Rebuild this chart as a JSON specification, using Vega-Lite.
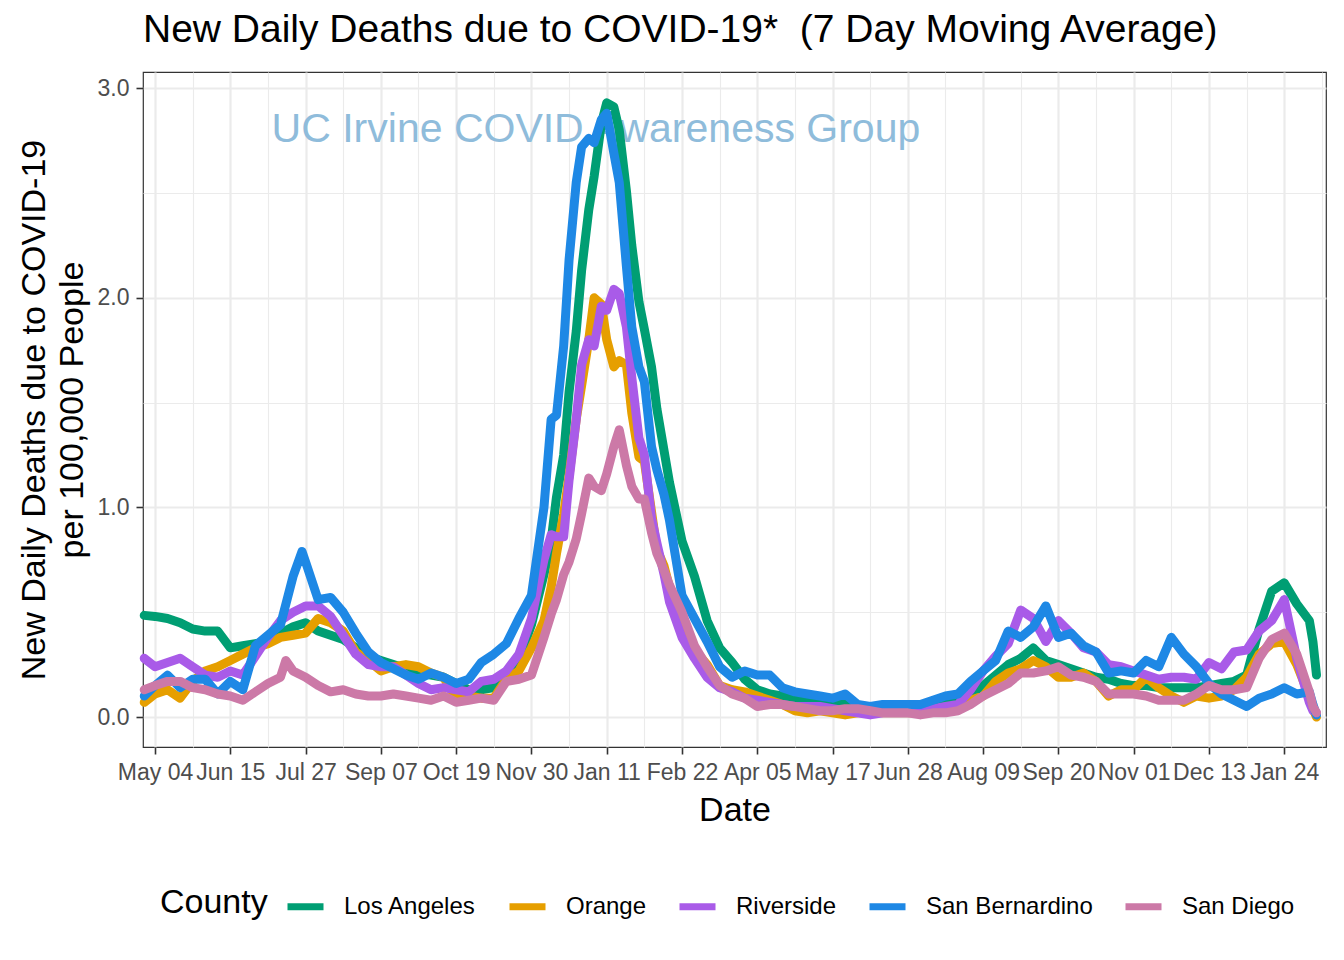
{
  "$schema": "https://vega.github.io/schema/vega-lite/v6.json",
  "width": 1183,
  "height": 675,
  "autosize": {"type": "none"},
  "padding": {"left": 143, "top": 72, "right": 18, "bottom": 213},
  "background": "white",
  "title": {"text": "New Daily Deaths due to COVID-19*\u00a0 (7 Day Moving Average)", "anchor": "start", "frame": "group", "fontSize": 39, "fontWeight": "normal", "color": "black", "offset": 22},
  "config": {
    "font": "Liberation Sans",
    "view": {"stroke": "#333333", "strokeWidth": 1.2},
    "axis": {"gridColor": "#EBEBEB", "domain": false, "tickColor": "#333333", "tickWidth": 1.6, "tickSize": 7, "labelColor": "#4D4D4D", "labelFontSize": 23, "titleColor": "black", "titleFontSize": 34, "titleFontWeight": "normal", "labelOverlap": false, "labelFlush": false, "labelBound": false}
  },
  "datasets": {
    "note": [{"d": "2021-01-05", "v": 2.8, "label": "UC Irvine COVID Awareness Group"}],
    "deaths": [
{"c":"Los Angeles","d":"2020-04-28","v":0.485},{"c":"Los Angeles","d":"2020-05-04","v":0.48},{"c":"Los Angeles","d":"2020-05-11","v":0.47},{"c":"Los Angeles","d":"2020-05-18","v":0.45},{"c":"Los Angeles","d":"2020-05-25","v":0.42},{"c":"Los Angeles","d":"2020-06-01","v":0.41},{"c":"Los Angeles","d":"2020-06-08","v":0.41},{"c":"Los Angeles","d":"2020-06-15","v":0.33},{"c":"Los Angeles","d":"2020-06-22","v":0.34},{"c":"Los Angeles","d":"2020-06-29","v":0.35},{"c":"Los Angeles","d":"2020-07-06","v":0.36},{"c":"Los Angeles","d":"2020-07-13","v":0.40},{"c":"Los Angeles","d":"2020-07-20","v":0.43},{"c":"Los Angeles","d":"2020-07-27","v":0.45},{"c":"Los Angeles","d":"2020-08-03","v":0.41},{"c":"Los Angeles","d":"2020-08-10","v":0.39},{"c":"Los Angeles","d":"2020-08-17","v":0.37},{"c":"Los Angeles","d":"2020-08-24","v":0.33},{"c":"Los Angeles","d":"2020-08-31","v":0.29},{"c":"Los Angeles","d":"2020-09-07","v":0.27},{"c":"Los Angeles","d":"2020-09-14","v":0.25},{"c":"Los Angeles","d":"2020-09-21","v":0.23},{"c":"Los Angeles","d":"2020-09-28","v":0.21},{"c":"Los Angeles","d":"2020-10-05","v":0.20},{"c":"Los Angeles","d":"2020-10-12","v":0.19},{"c":"Los Angeles","d":"2020-10-19","v":0.16},{"c":"Los Angeles","d":"2020-10-26","v":0.13},{"c":"Los Angeles","d":"2020-11-02","v":0.13},{"c":"Los Angeles","d":"2020-11-09","v":0.14},{"c":"Los Angeles","d":"2020-11-16","v":0.19},{"c":"Los Angeles","d":"2020-11-23","v":0.27},{"c":"Los Angeles","d":"2020-11-30","v":0.44},{"c":"Los Angeles","d":"2020-12-07","v":0.68},{"c":"Los Angeles","d":"2020-12-11","v":0.84},{"c":"Los Angeles","d":"2020-12-14","v":1.05},{"c":"Los Angeles","d":"2020-12-18","v":1.25},{"c":"Los Angeles","d":"2020-12-21","v":1.55},{"c":"Los Angeles","d":"2020-12-25","v":1.84},{"c":"Los Angeles","d":"2020-12-28","v":2.13},{"c":"Los Angeles","d":"2021-01-01","v":2.42},{"c":"Los Angeles","d":"2021-01-04","v":2.58},{"c":"Los Angeles","d":"2021-01-08","v":2.83},{"c":"Los Angeles","d":"2021-01-11","v":2.93},{"c":"Los Angeles","d":"2021-01-15","v":2.91},{"c":"Los Angeles","d":"2021-01-18","v":2.80},{"c":"Los Angeles","d":"2021-01-22","v":2.51},{"c":"Los Angeles","d":"2021-01-25","v":2.25},{"c":"Los Angeles","d":"2021-01-29","v":1.98},{"c":"Los Angeles","d":"2021-02-01","v":1.85},{"c":"Los Angeles","d":"2021-02-05","v":1.67},{"c":"Los Angeles","d":"2021-02-08","v":1.47},{"c":"Los Angeles","d":"2021-02-12","v":1.27},{"c":"Los Angeles","d":"2021-02-15","v":1.12},{"c":"Los Angeles","d":"2021-02-22","v":0.84},{"c":"Los Angeles","d":"2021-03-01","v":0.67},{"c":"Los Angeles","d":"2021-03-08","v":0.46},{"c":"Los Angeles","d":"2021-03-15","v":0.33},{"c":"Los Angeles","d":"2021-03-22","v":0.26},{"c":"Los Angeles","d":"2021-03-29","v":0.18},{"c":"Los Angeles","d":"2021-04-05","v":0.13},{"c":"Los Angeles","d":"2021-04-12","v":0.11},{"c":"Los Angeles","d":"2021-04-19","v":0.10},{"c":"Los Angeles","d":"2021-04-26","v":0.09},{"c":"Los Angeles","d":"2021-05-03","v":0.08},{"c":"Los Angeles","d":"2021-05-10","v":0.07},{"c":"Los Angeles","d":"2021-05-17","v":0.06},{"c":"Los Angeles","d":"2021-05-24","v":0.06},{"c":"Los Angeles","d":"2021-05-31","v":0.05},{"c":"Los Angeles","d":"2021-06-07","v":0.05},{"c":"Los Angeles","d":"2021-06-14","v":0.04},{"c":"Los Angeles","d":"2021-06-21","v":0.04},{"c":"Los Angeles","d":"2021-06-28","v":0.03},{"c":"Los Angeles","d":"2021-07-05","v":0.04},{"c":"Los Angeles","d":"2021-07-12","v":0.05},{"c":"Los Angeles","d":"2021-07-19","v":0.06},{"c":"Los Angeles","d":"2021-07-26","v":0.08},{"c":"Los Angeles","d":"2021-08-02","v":0.11},{"c":"Los Angeles","d":"2021-08-09","v":0.15},{"c":"Los Angeles","d":"2021-08-16","v":0.20},{"c":"Los Angeles","d":"2021-08-23","v":0.25},{"c":"Los Angeles","d":"2021-08-30","v":0.28},{"c":"Los Angeles","d":"2021-09-06","v":0.33},{"c":"Los Angeles","d":"2021-09-13","v":0.27},{"c":"Los Angeles","d":"2021-09-20","v":0.25},{"c":"Los Angeles","d":"2021-09-27","v":0.23},{"c":"Los Angeles","d":"2021-10-04","v":0.21},{"c":"Los Angeles","d":"2021-10-11","v":0.19},{"c":"Los Angeles","d":"2021-10-18","v":0.18},{"c":"Los Angeles","d":"2021-10-25","v":0.16},{"c":"Los Angeles","d":"2021-11-01","v":0.15},{"c":"Los Angeles","d":"2021-11-08","v":0.15},{"c":"Los Angeles","d":"2021-11-15","v":0.14},{"c":"Los Angeles","d":"2021-11-22","v":0.14},{"c":"Los Angeles","d":"2021-11-29","v":0.14},{"c":"Los Angeles","d":"2021-12-06","v":0.14},{"c":"Los Angeles","d":"2021-12-13","v":0.15},{"c":"Los Angeles","d":"2021-12-20","v":0.16},{"c":"Los Angeles","d":"2021-12-27","v":0.17},{"c":"Los Angeles","d":"2022-01-03","v":0.20},{"c":"Los Angeles","d":"2022-01-10","v":0.42},{"c":"Los Angeles","d":"2022-01-17","v":0.60},{"c":"Los Angeles","d":"2022-01-24","v":0.64},{"c":"Los Angeles","d":"2022-01-31","v":0.54},{"c":"Los Angeles","d":"2022-02-07","v":0.46},{"c":"Los Angeles","d":"2022-02-09","v":0.36},{"c":"Los Angeles","d":"2022-02-11","v":0.20},
{"c":"Orange","d":"2020-04-28","v":0.07},{"c":"Orange","d":"2020-05-04","v":0.11},{"c":"Orange","d":"2020-05-11","v":0.13},{"c":"Orange","d":"2020-05-18","v":0.09},{"c":"Orange","d":"2020-05-25","v":0.17},{"c":"Orange","d":"2020-06-01","v":0.22},{"c":"Orange","d":"2020-06-08","v":0.24},{"c":"Orange","d":"2020-06-15","v":0.27},{"c":"Orange","d":"2020-06-22","v":0.30},{"c":"Orange","d":"2020-06-29","v":0.33},{"c":"Orange","d":"2020-07-06","v":0.35},{"c":"Orange","d":"2020-07-13","v":0.38},{"c":"Orange","d":"2020-07-20","v":0.39},{"c":"Orange","d":"2020-07-27","v":0.40},{"c":"Orange","d":"2020-08-03","v":0.47},{"c":"Orange","d":"2020-08-10","v":0.45},{"c":"Orange","d":"2020-08-17","v":0.41},{"c":"Orange","d":"2020-08-24","v":0.31},{"c":"Orange","d":"2020-08-31","v":0.27},{"c":"Orange","d":"2020-09-07","v":0.22},{"c":"Orange","d":"2020-09-14","v":0.24},{"c":"Orange","d":"2020-09-21","v":0.25},{"c":"Orange","d":"2020-09-28","v":0.24},{"c":"Orange","d":"2020-10-05","v":0.21},{"c":"Orange","d":"2020-10-12","v":0.19},{"c":"Orange","d":"2020-10-19","v":0.09},{"c":"Orange","d":"2020-10-26","v":0.10},{"c":"Orange","d":"2020-11-02","v":0.09},{"c":"Orange","d":"2020-11-09","v":0.09},{"c":"Orange","d":"2020-11-16","v":0.18},{"c":"Orange","d":"2020-11-23","v":0.22},{"c":"Orange","d":"2020-11-30","v":0.33},{"c":"Orange","d":"2020-12-07","v":0.46},{"c":"Orange","d":"2020-12-11","v":0.62},{"c":"Orange","d":"2020-12-14","v":0.78},{"c":"Orange","d":"2020-12-18","v":0.97},{"c":"Orange","d":"2020-12-21","v":1.15},{"c":"Orange","d":"2020-12-25","v":1.42},{"c":"Orange","d":"2020-12-28","v":1.58},{"c":"Orange","d":"2021-01-01","v":1.80},{"c":"Orange","d":"2021-01-04","v":2.00},{"c":"Orange","d":"2021-01-08","v":1.97},{"c":"Orange","d":"2021-01-11","v":1.80},{"c":"Orange","d":"2021-01-15","v":1.67},{"c":"Orange","d":"2021-01-18","v":1.70},{"c":"Orange","d":"2021-01-22","v":1.68},{"c":"Orange","d":"2021-01-25","v":1.45},{"c":"Orange","d":"2021-01-29","v":1.24},{"c":"Orange","d":"2021-02-01","v":1.22},{"c":"Orange","d":"2021-02-05","v":0.98},{"c":"Orange","d":"2021-02-08","v":0.80},{"c":"Orange","d":"2021-02-12","v":0.72},{"c":"Orange","d":"2021-02-15","v":0.62},{"c":"Orange","d":"2021-02-22","v":0.45},{"c":"Orange","d":"2021-03-01","v":0.32},{"c":"Orange","d":"2021-03-08","v":0.25},{"c":"Orange","d":"2021-03-15","v":0.15},{"c":"Orange","d":"2021-03-22","v":0.13},{"c":"Orange","d":"2021-03-29","v":0.12},{"c":"Orange","d":"2021-04-05","v":0.10},{"c":"Orange","d":"2021-04-12","v":0.08},{"c":"Orange","d":"2021-04-19","v":0.06},{"c":"Orange","d":"2021-04-26","v":0.03},{"c":"Orange","d":"2021-05-03","v":0.02},{"c":"Orange","d":"2021-05-10","v":0.03},{"c":"Orange","d":"2021-05-17","v":0.02},{"c":"Orange","d":"2021-05-24","v":0.01},{"c":"Orange","d":"2021-05-31","v":0.02},{"c":"Orange","d":"2021-06-07","v":0.02},{"c":"Orange","d":"2021-06-14","v":0.02},{"c":"Orange","d":"2021-06-21","v":0.02},{"c":"Orange","d":"2021-06-28","v":0.02},{"c":"Orange","d":"2021-07-05","v":0.02},{"c":"Orange","d":"2021-07-12","v":0.03},{"c":"Orange","d":"2021-07-19","v":0.04},{"c":"Orange","d":"2021-07-26","v":0.05},{"c":"Orange","d":"2021-08-02","v":0.08},{"c":"Orange","d":"2021-08-09","v":0.10},{"c":"Orange","d":"2021-08-16","v":0.17},{"c":"Orange","d":"2021-08-23","v":0.21},{"c":"Orange","d":"2021-08-30","v":0.23},{"c":"Orange","d":"2021-09-06","v":0.27},{"c":"Orange","d":"2021-09-13","v":0.24},{"c":"Orange","d":"2021-09-20","v":0.19},{"c":"Orange","d":"2021-09-27","v":0.19},{"c":"Orange","d":"2021-10-04","v":0.21},{"c":"Orange","d":"2021-10-11","v":0.17},{"c":"Orange","d":"2021-10-18","v":0.10},{"c":"Orange","d":"2021-10-25","v":0.13},{"c":"Orange","d":"2021-11-01","v":0.13},{"c":"Orange","d":"2021-11-08","v":0.19},{"c":"Orange","d":"2021-11-15","v":0.14},{"c":"Orange","d":"2021-11-22","v":0.10},{"c":"Orange","d":"2021-11-29","v":0.07},{"c":"Orange","d":"2021-12-06","v":0.10},{"c":"Orange","d":"2021-12-13","v":0.09},{"c":"Orange","d":"2021-12-20","v":0.10},{"c":"Orange","d":"2021-12-27","v":0.13},{"c":"Orange","d":"2022-01-03","v":0.19},{"c":"Orange","d":"2022-01-10","v":0.30},{"c":"Orange","d":"2022-01-17","v":0.35},{"c":"Orange","d":"2022-01-24","v":0.36},{"c":"Orange","d":"2022-01-31","v":0.25},{"c":"Orange","d":"2022-02-07","v":0.10},{"c":"Orange","d":"2022-02-09","v":0.04},{"c":"Orange","d":"2022-02-11","v":0.0},
{"c":"Riverside","d":"2020-04-28","v":0.28},{"c":"Riverside","d":"2020-05-04","v":0.24},{"c":"Riverside","d":"2020-05-11","v":0.26},{"c":"Riverside","d":"2020-05-18","v":0.28},{"c":"Riverside","d":"2020-05-25","v":0.24},{"c":"Riverside","d":"2020-06-01","v":0.20},{"c":"Riverside","d":"2020-06-08","v":0.19},{"c":"Riverside","d":"2020-06-15","v":0.22},{"c":"Riverside","d":"2020-06-22","v":0.20},{"c":"Riverside","d":"2020-06-29","v":0.29},{"c":"Riverside","d":"2020-07-06","v":0.38},{"c":"Riverside","d":"2020-07-13","v":0.46},{"c":"Riverside","d":"2020-07-20","v":0.50},{"c":"Riverside","d":"2020-07-27","v":0.53},{"c":"Riverside","d":"2020-08-03","v":0.53},{"c":"Riverside","d":"2020-08-10","v":0.48},{"c":"Riverside","d":"2020-08-17","v":0.39},{"c":"Riverside","d":"2020-08-24","v":0.30},{"c":"Riverside","d":"2020-08-31","v":0.25},{"c":"Riverside","d":"2020-09-07","v":0.24},{"c":"Riverside","d":"2020-09-14","v":0.24},{"c":"Riverside","d":"2020-09-21","v":0.20},{"c":"Riverside","d":"2020-09-28","v":0.16},{"c":"Riverside","d":"2020-10-05","v":0.13},{"c":"Riverside","d":"2020-10-12","v":0.14},{"c":"Riverside","d":"2020-10-19","v":0.13},{"c":"Riverside","d":"2020-10-26","v":0.12},{"c":"Riverside","d":"2020-11-02","v":0.17},{"c":"Riverside","d":"2020-11-09","v":0.18},{"c":"Riverside","d":"2020-11-16","v":0.22},{"c":"Riverside","d":"2020-11-23","v":0.30},{"c":"Riverside","d":"2020-11-30","v":0.47},{"c":"Riverside","d":"2020-12-07","v":0.75},{"c":"Riverside","d":"2020-12-11","v":0.87},{"c":"Riverside","d":"2020-12-14","v":0.86},{"c":"Riverside","d":"2020-12-18","v":0.86},{"c":"Riverside","d":"2020-12-21","v":1.13},{"c":"Riverside","d":"2020-12-25","v":1.42},{"c":"Riverside","d":"2020-12-28","v":1.68},{"c":"Riverside","d":"2021-01-01","v":1.80},{"c":"Riverside","d":"2021-01-04","v":1.77},{"c":"Riverside","d":"2021-01-08","v":1.96},{"c":"Riverside","d":"2021-01-11","v":1.94},{"c":"Riverside","d":"2021-01-15","v":2.04},{"c":"Riverside","d":"2021-01-18","v":2.02},{"c":"Riverside","d":"2021-01-22","v":1.86},{"c":"Riverside","d":"2021-01-25","v":1.62},{"c":"Riverside","d":"2021-01-29","v":1.33},{"c":"Riverside","d":"2021-02-01","v":1.25},{"c":"Riverside","d":"2021-02-05","v":0.95},{"c":"Riverside","d":"2021-02-08","v":0.83},{"c":"Riverside","d":"2021-02-12","v":0.68},{"c":"Riverside","d":"2021-02-15","v":0.55},{"c":"Riverside","d":"2021-02-22","v":0.38},{"c":"Riverside","d":"2021-03-01","v":0.28},{"c":"Riverside","d":"2021-03-08","v":0.19},{"c":"Riverside","d":"2021-03-15","v":0.14},{"c":"Riverside","d":"2021-03-22","v":0.12},{"c":"Riverside","d":"2021-03-29","v":0.09},{"c":"Riverside","d":"2021-04-05","v":0.08},{"c":"Riverside","d":"2021-04-12","v":0.07},{"c":"Riverside","d":"2021-04-19","v":0.06},{"c":"Riverside","d":"2021-04-26","v":0.05},{"c":"Riverside","d":"2021-05-03","v":0.05},{"c":"Riverside","d":"2021-05-10","v":0.05},{"c":"Riverside","d":"2021-05-17","v":0.04},{"c":"Riverside","d":"2021-05-24","v":0.03},{"c":"Riverside","d":"2021-05-31","v":0.02},{"c":"Riverside","d":"2021-06-07","v":0.01},{"c":"Riverside","d":"2021-06-14","v":0.02},{"c":"Riverside","d":"2021-06-21","v":0.02},{"c":"Riverside","d":"2021-06-28","v":0.02},{"c":"Riverside","d":"2021-07-05","v":0.03},{"c":"Riverside","d":"2021-07-12","v":0.04},{"c":"Riverside","d":"2021-07-19","v":0.05},{"c":"Riverside","d":"2021-07-26","v":0.06},{"c":"Riverside","d":"2021-08-02","v":0.13},{"c":"Riverside","d":"2021-08-09","v":0.22},{"c":"Riverside","d":"2021-08-16","v":0.29},{"c":"Riverside","d":"2021-08-23","v":0.35},{"c":"Riverside","d":"2021-08-30","v":0.51},{"c":"Riverside","d":"2021-09-06","v":0.47},{"c":"Riverside","d":"2021-09-13","v":0.36},{"c":"Riverside","d":"2021-09-20","v":0.46},{"c":"Riverside","d":"2021-09-27","v":0.40},{"c":"Riverside","d":"2021-10-04","v":0.33},{"c":"Riverside","d":"2021-10-11","v":0.31},{"c":"Riverside","d":"2021-10-18","v":0.25},{"c":"Riverside","d":"2021-10-25","v":0.24},{"c":"Riverside","d":"2021-11-01","v":0.22},{"c":"Riverside","d":"2021-11-08","v":0.20},{"c":"Riverside","d":"2021-11-15","v":0.18},{"c":"Riverside","d":"2021-11-22","v":0.19},{"c":"Riverside","d":"2021-11-29","v":0.19},{"c":"Riverside","d":"2021-12-06","v":0.18},{"c":"Riverside","d":"2021-12-13","v":0.26},{"c":"Riverside","d":"2021-12-20","v":0.23},{"c":"Riverside","d":"2021-12-27","v":0.31},{"c":"Riverside","d":"2022-01-03","v":0.32},{"c":"Riverside","d":"2022-01-10","v":0.41},{"c":"Riverside","d":"2022-01-17","v":0.46},{"c":"Riverside","d":"2022-01-24","v":0.56},{"c":"Riverside","d":"2022-01-31","v":0.28},{"c":"Riverside","d":"2022-02-07","v":0.07},{"c":"Riverside","d":"2022-02-09","v":0.03},{"c":"Riverside","d":"2022-02-11","v":0.02},
{"c":"San Bernardino","d":"2020-04-28","v":0.10},{"c":"San Bernardino","d":"2020-05-04","v":0.15},{"c":"San Bernardino","d":"2020-05-11","v":0.20},{"c":"San Bernardino","d":"2020-05-18","v":0.14},{"c":"San Bernardino","d":"2020-05-25","v":0.18},{"c":"San Bernardino","d":"2020-06-01","v":0.18},{"c":"San Bernardino","d":"2020-06-08","v":0.11},{"c":"San Bernardino","d":"2020-06-15","v":0.17},{"c":"San Bernardino","d":"2020-06-22","v":0.13},{"c":"San Bernardino","d":"2020-06-29","v":0.34},{"c":"San Bernardino","d":"2020-07-06","v":0.39},{"c":"San Bernardino","d":"2020-07-13","v":0.44},{"c":"San Bernardino","d":"2020-07-20","v":0.67},{"c":"San Bernardino","d":"2020-07-25","v":0.79},{"c":"San Bernardino","d":"2020-07-27","v":0.74},{"c":"San Bernardino","d":"2020-08-03","v":0.56},{"c":"San Bernardino","d":"2020-08-10","v":0.57},{"c":"San Bernardino","d":"2020-08-17","v":0.50},{"c":"San Bernardino","d":"2020-08-24","v":0.40},{"c":"San Bernardino","d":"2020-08-31","v":0.31},{"c":"San Bernardino","d":"2020-09-07","v":0.26},{"c":"San Bernardino","d":"2020-09-14","v":0.23},{"c":"San Bernardino","d":"2020-09-21","v":0.20},{"c":"San Bernardino","d":"2020-09-28","v":0.18},{"c":"San Bernardino","d":"2020-10-05","v":0.21},{"c":"San Bernardino","d":"2020-10-12","v":0.19},{"c":"San Bernardino","d":"2020-10-19","v":0.16},{"c":"San Bernardino","d":"2020-10-26","v":0.18},{"c":"San Bernardino","d":"2020-11-02","v":0.26},{"c":"San Bernardino","d":"2020-11-09","v":0.30},{"c":"San Bernardino","d":"2020-11-16","v":0.35},{"c":"San Bernardino","d":"2020-11-23","v":0.47},{"c":"San Bernardino","d":"2020-11-30","v":0.58},{"c":"San Bernardino","d":"2020-12-07","v":1.00},{"c":"San Bernardino","d":"2020-12-11","v":1.42},{"c":"San Bernardino","d":"2020-12-14","v":1.44},{"c":"San Bernardino","d":"2020-12-18","v":1.77},{"c":"San Bernardino","d":"2020-12-21","v":2.18},{"c":"San Bernardino","d":"2020-12-25","v":2.55},{"c":"San Bernardino","d":"2020-12-28","v":2.72},{"c":"San Bernardino","d":"2021-01-01","v":2.76},{"c":"San Bernardino","d":"2021-01-04","v":2.74},{"c":"San Bernardino","d":"2021-01-08","v":2.85},{"c":"San Bernardino","d":"2021-01-11","v":2.88},{"c":"San Bernardino","d":"2021-01-15","v":2.69},{"c":"San Bernardino","d":"2021-01-18","v":2.55},{"c":"San Bernardino","d":"2021-01-22","v":2.15},{"c":"San Bernardino","d":"2021-01-25","v":1.86},{"c":"San Bernardino","d":"2021-01-29","v":1.67},{"c":"San Bernardino","d":"2021-02-01","v":1.60},{"c":"San Bernardino","d":"2021-02-05","v":1.29},{"c":"San Bernardino","d":"2021-02-08","v":1.18},{"c":"San Bernardino","d":"2021-02-12","v":1.06},{"c":"San Bernardino","d":"2021-02-15","v":0.94},{"c":"San Bernardino","d":"2021-02-22","v":0.58},{"c":"San Bernardino","d":"2021-03-01","v":0.47},{"c":"San Bernardino","d":"2021-03-08","v":0.36},{"c":"San Bernardino","d":"2021-03-15","v":0.24},{"c":"San Bernardino","d":"2021-03-22","v":0.19},{"c":"San Bernardino","d":"2021-03-29","v":0.22},{"c":"San Bernardino","d":"2021-04-05","v":0.20},{"c":"San Bernardino","d":"2021-04-12","v":0.20},{"c":"San Bernardino","d":"2021-04-19","v":0.14},{"c":"San Bernardino","d":"2021-04-26","v":0.12},{"c":"San Bernardino","d":"2021-05-03","v":0.11},{"c":"San Bernardino","d":"2021-05-10","v":0.10},{"c":"San Bernardino","d":"2021-05-17","v":0.09},{"c":"San Bernardino","d":"2021-05-24","v":0.11},{"c":"San Bernardino","d":"2021-05-31","v":0.06},{"c":"San Bernardino","d":"2021-06-07","v":0.05},{"c":"San Bernardino","d":"2021-06-14","v":0.06},{"c":"San Bernardino","d":"2021-06-21","v":0.06},{"c":"San Bernardino","d":"2021-06-28","v":0.06},{"c":"San Bernardino","d":"2021-07-05","v":0.06},{"c":"San Bernardino","d":"2021-07-12","v":0.08},{"c":"San Bernardino","d":"2021-07-19","v":0.10},{"c":"San Bernardino","d":"2021-07-26","v":0.11},{"c":"San Bernardino","d":"2021-08-02","v":0.17},{"c":"San Bernardino","d":"2021-08-09","v":0.22},{"c":"San Bernardino","d":"2021-08-16","v":0.27},{"c":"San Bernardino","d":"2021-08-23","v":0.41},{"c":"San Bernardino","d":"2021-08-30","v":0.38},{"c":"San Bernardino","d":"2021-09-06","v":0.43},{"c":"San Bernardino","d":"2021-09-13","v":0.53},{"c":"San Bernardino","d":"2021-09-20","v":0.38},{"c":"San Bernardino","d":"2021-09-27","v":0.40},{"c":"San Bernardino","d":"2021-10-04","v":0.34},{"c":"San Bernardino","d":"2021-10-11","v":0.31},{"c":"San Bernardino","d":"2021-10-18","v":0.21},{"c":"San Bernardino","d":"2021-10-25","v":0.22},{"c":"San Bernardino","d":"2021-11-01","v":0.21},{"c":"San Bernardino","d":"2021-11-08","v":0.27},{"c":"San Bernardino","d":"2021-11-15","v":0.24},{"c":"San Bernardino","d":"2021-11-22","v":0.38},{"c":"San Bernardino","d":"2021-11-29","v":0.30},{"c":"San Bernardino","d":"2021-12-06","v":0.24},{"c":"San Bernardino","d":"2021-12-13","v":0.16},{"c":"San Bernardino","d":"2021-12-20","v":0.11},{"c":"San Bernardino","d":"2021-12-27","v":0.08},{"c":"San Bernardino","d":"2022-01-03","v":0.05},{"c":"San Bernardino","d":"2022-01-10","v":0.09},{"c":"San Bernardino","d":"2022-01-17","v":0.11},{"c":"San Bernardino","d":"2022-01-24","v":0.14},{"c":"San Bernardino","d":"2022-01-31","v":0.11},{"c":"San Bernardino","d":"2022-02-07","v":0.12},{"c":"San Bernardino","d":"2022-02-09","v":0.06},{"c":"San Bernardino","d":"2022-02-11","v":0.01},
{"c":"San Diego","d":"2020-04-28","v":0.13},{"c":"San Diego","d":"2020-05-04","v":0.15},{"c":"San Diego","d":"2020-05-11","v":0.17},{"c":"San Diego","d":"2020-05-18","v":0.17},{"c":"San Diego","d":"2020-05-25","v":0.14},{"c":"San Diego","d":"2020-06-01","v":0.13},{"c":"San Diego","d":"2020-06-08","v":0.11},{"c":"San Diego","d":"2020-06-15","v":0.10},{"c":"San Diego","d":"2020-06-22","v":0.08},{"c":"San Diego","d":"2020-06-29","v":0.12},{"c":"San Diego","d":"2020-07-06","v":0.16},{"c":"San Diego","d":"2020-07-13","v":0.19},{"c":"San Diego","d":"2020-07-16","v":0.27},{"c":"San Diego","d":"2020-07-20","v":0.22},{"c":"San Diego","d":"2020-07-27","v":0.19},{"c":"San Diego","d":"2020-08-03","v":0.15},{"c":"San Diego","d":"2020-08-10","v":0.12},{"c":"San Diego","d":"2020-08-17","v":0.13},{"c":"San Diego","d":"2020-08-24","v":0.11},{"c":"San Diego","d":"2020-08-31","v":0.10},{"c":"San Diego","d":"2020-09-07","v":0.10},{"c":"San Diego","d":"2020-09-14","v":0.11},{"c":"San Diego","d":"2020-09-21","v":0.10},{"c":"San Diego","d":"2020-09-28","v":0.09},{"c":"San Diego","d":"2020-10-05","v":0.08},{"c":"San Diego","d":"2020-10-12","v":0.10},{"c":"San Diego","d":"2020-10-19","v":0.07},{"c":"San Diego","d":"2020-10-26","v":0.08},{"c":"San Diego","d":"2020-11-02","v":0.09},{"c":"San Diego","d":"2020-11-09","v":0.08},{"c":"San Diego","d":"2020-11-16","v":0.17},{"c":"San Diego","d":"2020-11-23","v":0.18},{"c":"San Diego","d":"2020-11-30","v":0.20},{"c":"San Diego","d":"2020-12-07","v":0.38},{"c":"San Diego","d":"2020-12-11","v":0.49},{"c":"San Diego","d":"2020-12-14","v":0.56},{"c":"San Diego","d":"2020-12-18","v":0.68},{"c":"San Diego","d":"2020-12-21","v":0.74},{"c":"San Diego","d":"2020-12-25","v":0.85},{"c":"San Diego","d":"2020-12-28","v":0.97},{"c":"San Diego","d":"2021-01-01","v":1.14},{"c":"San Diego","d":"2021-01-04","v":1.10},{"c":"San Diego","d":"2021-01-08","v":1.08},{"c":"San Diego","d":"2021-01-11","v":1.16},{"c":"San Diego","d":"2021-01-15","v":1.29},{"c":"San Diego","d":"2021-01-18","v":1.37},{"c":"San Diego","d":"2021-01-22","v":1.20},{"c":"San Diego","d":"2021-01-25","v":1.10},{"c":"San Diego","d":"2021-01-29","v":1.04},{"c":"San Diego","d":"2021-02-01","v":1.04},{"c":"San Diego","d":"2021-02-05","v":0.88},{"c":"San Diego","d":"2021-02-08","v":0.78},{"c":"San Diego","d":"2021-02-12","v":0.70},{"c":"San Diego","d":"2021-02-15","v":0.63},{"c":"San Diego","d":"2021-02-22","v":0.50},{"c":"San Diego","d":"2021-03-01","v":0.34},{"c":"San Diego","d":"2021-03-08","v":0.24},{"c":"San Diego","d":"2021-03-15","v":0.15},{"c":"San Diego","d":"2021-03-22","v":0.11},{"c":"San Diego","d":"2021-03-29","v":0.09},{"c":"San Diego","d":"2021-04-05","v":0.05},{"c":"San Diego","d":"2021-04-12","v":0.06},{"c":"San Diego","d":"2021-04-19","v":0.06},{"c":"San Diego","d":"2021-04-26","v":0.05},{"c":"San Diego","d":"2021-05-03","v":0.04},{"c":"San Diego","d":"2021-05-10","v":0.03},{"c":"San Diego","d":"2021-05-17","v":0.03},{"c":"San Diego","d":"2021-05-24","v":0.04},{"c":"San Diego","d":"2021-05-31","v":0.04},{"c":"San Diego","d":"2021-06-07","v":0.03},{"c":"San Diego","d":"2021-06-14","v":0.02},{"c":"San Diego","d":"2021-06-21","v":0.02},{"c":"San Diego","d":"2021-06-28","v":0.02},{"c":"San Diego","d":"2021-07-05","v":0.01},{"c":"San Diego","d":"2021-07-12","v":0.02},{"c":"San Diego","d":"2021-07-19","v":0.02},{"c":"San Diego","d":"2021-07-26","v":0.03},{"c":"San Diego","d":"2021-08-02","v":0.06},{"c":"San Diego","d":"2021-08-09","v":0.10},{"c":"San Diego","d":"2021-08-16","v":0.13},{"c":"San Diego","d":"2021-08-23","v":0.16},{"c":"San Diego","d":"2021-08-30","v":0.21},{"c":"San Diego","d":"2021-09-06","v":0.21},{"c":"San Diego","d":"2021-09-13","v":0.22},{"c":"San Diego","d":"2021-09-20","v":0.24},{"c":"San Diego","d":"2021-09-27","v":0.20},{"c":"San Diego","d":"2021-10-04","v":0.19},{"c":"San Diego","d":"2021-10-11","v":0.17},{"c":"San Diego","d":"2021-10-18","v":0.11},{"c":"San Diego","d":"2021-10-25","v":0.11},{"c":"San Diego","d":"2021-11-01","v":0.11},{"c":"San Diego","d":"2021-11-08","v":0.10},{"c":"San Diego","d":"2021-11-15","v":0.08},{"c":"San Diego","d":"2021-11-22","v":0.08},{"c":"San Diego","d":"2021-11-29","v":0.08},{"c":"San Diego","d":"2021-12-06","v":0.11},{"c":"San Diego","d":"2021-12-13","v":0.15},{"c":"San Diego","d":"2021-12-20","v":0.13},{"c":"San Diego","d":"2021-12-27","v":0.13},{"c":"San Diego","d":"2022-01-03","v":0.14},{"c":"San Diego","d":"2022-01-10","v":0.28},{"c":"San Diego","d":"2022-01-17","v":0.37},{"c":"San Diego","d":"2022-01-24","v":0.40},{"c":"San Diego","d":"2022-01-31","v":0.30},{"c":"San Diego","d":"2022-02-07","v":0.12},{"c":"San Diego","d":"2022-02-09","v":0.05},{"c":"San Diego","d":"2022-02-11","v":0.02}
    ]
  },
  "encoding": {
    "x": {
      "field": "d", "type": "temporal", "title": "Date",
      "scale": {"type": "utc", "domain": [1587971520000, 1644995520000], "nice": false},
      "axis": {
        "values": [1588550400000, 1590364800000, 1592179200000, 1593993600000, 1595808000000, 1597622400000, 1599436800000, 1601251200000, 1603065600000, 1604880000000, 1606694400000, 1608508800000, 1610323200000, 1612137600000, 1613952000000, 1615766400000, 1617580800000, 1619395200000, 1621209600000, 1623024000000, 1624838400000, 1626652800000, 1628467200000, 1630281600000, 1632096000000, 1633910400000, 1635724800000, 1637539200000, 1639353600000, 1641168000000, 1642982400000, 1644796800000],
        "labelExpr": "(round(datum.value/86400000) - 18386) % 42 == 0 ? utcFormat(datum.value, '%b %d') : ''",
        "gridWidth": {"condition": {"test": "(round(datum.value/86400000) - 18386) % 42 == 0", "value": 2.2}, "value": 1.1},
        "tickOpacity": {"condition": {"test": "(round(datum.value/86400000) - 18386) % 42 == 0", "value": 1}, "value": 0},
        "labelAngle": 0, "labelPadding": 7, "titlePadding": 9
      }
    },
    "y": {
      "field": "v", "type": "quantitative",
      "title": ["New Daily Deaths due to COVID-19", "per 100,000 People"],
      "scale": {"domain": [-0.143, 3.077], "nice": false, "zero": false},
      "axis": {
        "values": [0, 0.5, 1, 1.5, 2, 2.5, 3],
        "labelExpr": "datum.value % 1 == 0 ? format(datum.value, '.1f') : ''",
        "gridWidth": {"condition": {"test": "datum.value % 1 == 0", "value": 2.2}, "value": 1.1},
        "tickOpacity": {"condition": {"test": "datum.value % 1 == 0", "value": 1}, "value": 0},
        "labelPadding": 7, "titlePadding": 8, "titleLineHeight": 38
      }
    }
  },
  "layer": [
    {
      "data": {"name": "note"},
      "mark": {"type": "text", "fontSize": 41, "color": "#8fbcdb", "align": "center", "baseline": "middle"},
      "encoding": {"text": {"field": "label"}}
    },
    {
      "data": {"name": "deaths"},
      "mark": {"type": "line", "strokeWidth": 9, "strokeCap": "round", "strokeJoin": "round"},
      "encoding": {
        "color": {
          "field": "c", "type": "nominal", "title": "County",
          "scale": {"domain": ["Los Angeles", "Orange", "Riverside", "San Bernardino", "San Diego"], "range": ["#009E73", "#E69F00", "#A95BE8", "#1E88E5", "#CC79A7"]},
          "legend": {"orient": "none", "legendX": 17, "legendY": 813, "direction": "horizontal", "titleOrient": "left", "titleFontSize": 34, "titleFontWeight": "normal", "titleColor": "black", "titlePadding": 16, "labelFontSize": 24, "labelColor": "black", "labelLimit": 400, "symbolType": "stroke", "symbolSize": 1296, "symbolStrokeWidth": 7, "labelOffset": 17, "columnPadding": 18}
        }
      }
    }
  ]
}
